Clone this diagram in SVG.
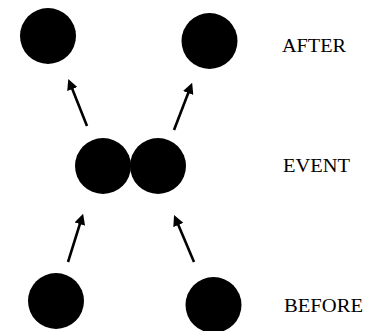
<svg xmlns="http://www.w3.org/2000/svg" width="367" height="331" viewBox="0 0 367 331">
<style>
.n{fill:#000}
.c{stroke:#000;stroke-width:2.6;fill:none;marker-end:url(#ah)}
.t{font-family:"Liberation Serif","Times New Roman",serif;font-size:18px;fill:#000}
</style>
<defs>
<marker id="ah" viewBox="0 0 10 10" refX="2" refY="5" markerWidth="4.2" markerHeight="4.2" markerUnits="strokeWidth" orient="auto">
<path d="M0,0 L10,5 L0,10 z" fill="#000"/>
</marker>
</defs>
<rect width="367" height="331" fill="#fff"/>
<g id="after-left"><circle class="n" cx="48" cy="36" r="28"/></g>
<g id="after-right"><circle class="n" cx="209.5" cy="41" r="28"/></g>
<g id="event-left"><circle class="n" cx="103" cy="166" r="28"/></g>
<g id="event-right"><circle class="n" cx="158" cy="166" r="28"/></g>
<g id="before-left"><circle class="n" cx="56" cy="301" r="28"/></g>
<g id="before-right"><circle class="n" cx="213.5" cy="305" r="28"/></g>
<g id="connectors">
<line class="c" x1="87" y1="126" x2="71.5" y2="87"/>
<line class="c" x1="174" y1="130" x2="189" y2="91"/>
<line class="c" x1="68" y1="262" x2="80.5" y2="222"/>
<line class="c" x1="194" y1="262" x2="177.5" y2="223"/>
</g>
<g id="labels">
<text class="t" x="282" y="51.5" textLength="64" lengthAdjust="spacingAndGlyphs">AFTER</text>
<text class="t" x="283" y="171.5" textLength="67" lengthAdjust="spacingAndGlyphs">EVENT</text>
<text class="t" x="284" y="311.5" textLength="79" lengthAdjust="spacingAndGlyphs">BEFORE</text>
</g>
</svg>
